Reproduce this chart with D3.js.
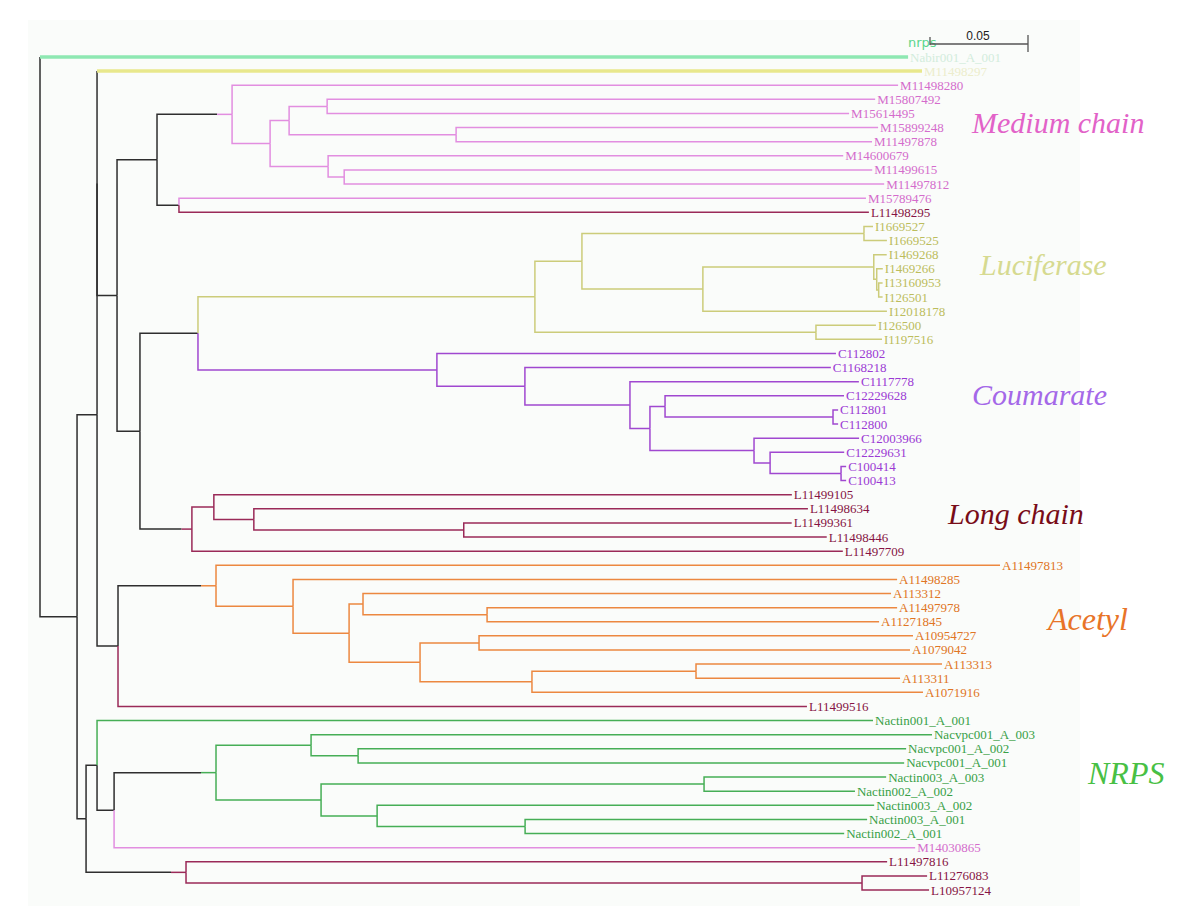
<!DOCTYPE html>
<html><head><meta charset="utf-8">
<script src="https://cdn.jsdelivr.net/npm/d3@7"></script>
<style>body{margin:0;background:#fff}svg{display:block}</style>
</head><body><div id="chart"></div>
<script>
// ---------- DATA (branch lengths, substitutions/site) ----------
const mediumChain = "((M11498280:0.3398,(((M15807492:0.2796,M15614495:0.2663):0.0194,(M15899248:0.2153,M11497878:0.2122):0.0852):0.0097,(M14600679:0.2628,(M11499615:0.2694,M11497812:0.2755):0.0082):0.0296):0.0194):0.0383,(M15789476:0.3505,L11498295:0.3520):0.0112):0.0204";
const luciferase = "(((I1669527:0.0046,I1669525:0.0117):0.1439,((I1469268:0.0066,(I1469266:0.0031,(I13160953:0.0020,I126501:0.0020):0.0010):0.0015):0.0872,I12018178:0.0939):0.0617):0.0240,(I126500:0.0306,I1197516:0.0337):0.1434):0.1719";
const coumarate = "(C112802:0.2036,(C1168218:0.1561,(C1117778:0.1168,((C12229628:0.0913,(C112801:0.0026,C112800:0.0026):0.0857):0.0077,(C12003966:0.0536,(C12229631:0.0378,(C100414:0.0026,C100413:0.0026):0.0362):0.0082):0.0531):0.0102):0.0536):0.0449):0.1219";
const longChain = "((L11499105:0.2949,(L11498634:0.2827,(L11499361:0.1673,L11498446:0.1852):0.1071):0.0204):0.0112,L11497709:0.3321):0.0265";
const acetyl = "(A11497813:0.4000,(A11498285:0.3082,((A113312:0.2694,(A11497978:0.2092,A11271845:0.2000):0.0633):0.0071,((A10954727:0.2214,A1079042:0.2199):0.0301,((A113313:0.1255,A113311:0.1041):0.0837,A1071916:0.1995):0.0571):0.0362):0.0286):0.0393):0.0500";
const nrps = "(Nactin001_A_001:0.3959,(((Nacvpc001_A_003:0.3168,(Nacvpc001_A_002:0.2796,Nacvpc001_A_001:0.2786):0.0240):0.0485,((Nactin003_A_003:0.0929,Nactin002_A_002:0.0770):0.1954,(Nactin003_A_002:0.2536,(Nactin003_A_001:0.1745,Nactin002_A_001:0.1628):0.0755):0.0286):0.0536):0.0520,M14030865:0.4087):0.0087):0.0056";
const longTrio = "(L11497816:0.3577,(L11276083:0.0332,L10957124:0.0342):0.3449):0.0510";

const treeNewick =
  `(Nabir001_A_001:0.4429,(((M11498297:0.4209,(${mediumChain},((${luciferase},${coumarate}):0.0296,${longChain}):0.0117):0.0102):0,` +
  `(${acetyl},L11499516:0.3515):0.0107):0.0102,(${nrps},${longTrio}):0.0046):0.0189);`;

const groupKeys   = ["M", "L", "I", "C", "A", "N"];
const groupTitles = ["Medium chain", "Long chain", "Luciferase", "Coumarate", "Acetyl", "NRPS"];
const highlightLeaves = ["Nabir001_A_001", "M11498297"];
const scaleBarValue = 0.05;

// ---------- STYLE ----------
const lineColors  = {M:"#e28ee0", L:"#9a2a58", I:"#cccc7a", C:"#a048d0", A:"#ec8840", N:"#46ae56"};
const labelColors = {M:"#d46ccc", L:"#861444", I:"#bcbd5c", C:"#9a3ad4", A:"#e07524", N:"#38a046"};
const titleColors = {M:"#e262c8", L:"#780c18", I:"#d6da90", C:"#a468e8", A:"#e87428", N:"#48c044"};
const titlePos = {M:[972,133,30], I:[980,275,30], C:[972,405,30], L:[948,524,30], A:[1048,630,32], N:[1088,784,32]};
const highlightColors = {"Nabir001_A_001":"#8ee8b2", "M11498297":"#e8e88c"};
const highlightLabel  = {"Nabir001_A_001":"#d2ecdc", "M11498297":"#ecedcc"};
const backbone = "#2e2e2e";

// ---------- PARSE ----------
function parseNewick(s){
  let i = 0;
  function node(){
    const n = {children: []};
    if (s[i] === "("){
      i++; n.children.push(node());
      while (s[i] === ","){ i++; n.children.push(node()); }
      i++; // ')'
    }
    let name = "";
    while (i < s.length && !",():;".includes(s[i])) name += s[i++];
    n.name = name;
    n.length = 0;
    if (s[i] === ":"){
      i++; let num = "";
      while (i < s.length && !",();".includes(s[i])) num += s[i++];
      n.length = +num;
    }
    return n;
  }
  return node();
}

const root = d3.hierarchy(parseNewick(treeNewick), d => d.children.length ? d.children : null);
root.eachBefore(n => { n.dist = (n.parent ? n.parent.dist : 0) + n.data.length; });
const leaves = root.leaves();

const W = 1200, H = 921;
const x = d3.scaleLinear().domain([0, scaleBarValue]).range([40, 138]);
const y = d3.scaleLinear().domain([0, leaves.length - 1]).range([57, 890]);
leaves.forEach((l, i) => l.y = y(i));
root.eachAfter(n => {
  if (n.children) n.y = (n.children[0].y + n.children[n.children.length - 1].y) / 2;
  n.x = x(n.dist);
});
const groupOf = name => name[0];
root.eachAfter(n => {
  if (!n.children) n.groups = new Set([groupOf(n.data.name)]);
  else { n.groups = new Set(); n.children.forEach(c => c.groups.forEach(g => n.groups.add(g))); }
  n.uniform = n.groups.size === 1 ? [...n.groups][0] : null;
});

// ---------- DRAW ----------
const svg = d3.select("#chart").append("svg").attr("width", W).attr("height", H);
svg.append("rect").attr("x", 28).attr("y", 20).attr("width", 1052).attr("height", 886).attr("fill", "#fafcfa");

const gEdges = svg.append("g").attr("fill", "none").attr("stroke-width", 1.5);
root.descendants().forEach(n => {
  if (!n.parent) return;
  const p = n.parent;
  const isHL = !n.children && highlightLeaves.includes(n.data.name);
  if (isHL){
    gEdges.append("path").attr("d", `M${p.x},${p.y}V${n.y}`).attr("stroke", backbone);
    gEdges.append("path").attr("d", `M${p.x},${n.y}H${n.x}`)
      .attr("stroke", highlightColors[n.data.name]).attr("stroke-width", 3.5);
    return;
  }
  const col = n.uniform ? lineColors[n.uniform] : backbone;
  const stem = n.children && n.uniform && !p.uniform && p.dist < 0.06;
  if (stem){
    const tip = Math.min(15, (n.x - p.x) * 0.2);
    gEdges.append("path").attr("d", `M${p.x},${p.y}V${n.y}H${n.x - tip}`).attr("stroke", backbone);
    gEdges.append("path").attr("d", `M${n.x - tip},${n.y}H${n.x}`).attr("stroke", col);
  } else {
    gEdges.append("path").attr("d", `M${p.x},${p.y}V${n.y}H${n.x}`).attr("stroke", col);
  }
});

// leaf labels
svg.append("g").selectAll("text").data(leaves).join("text")
  .attr("x", d => d.x + 2).attr("y", d => d.y + 4.5)
  .attr("font-family", "'Liberation Serif', serif").attr("font-size", 13)
  .attr("fill", d => highlightLeaves.includes(d.data.name) ? highlightLabel[d.data.name] : labelColors[groupOf(d.data.name)])
  .text(d => d.data.name);

// top annotation
svg.append("text").attr("x", 908).attr("y", 47).attr("font-family", "'DejaVu Sans', sans-serif")
  .attr("font-size", 13).attr("fill", "#5cd68c").text("nrps");

// clade titles
svg.append("g").selectAll("text").data(groupKeys).join("text")
  .attr("x", k => titlePos[k][0]).attr("y", k => titlePos[k][1])
  .attr("font-family", "'Liberation Serif', serif").attr("font-style", "italic")
  .attr("font-size", k => titlePos[k][2]).attr("fill", k => titleColors[k])
  .text((k, i) => groupTitles[i]);

// scale bar
const sbX = 930, sbY = 44, sbW = x(scaleBarValue) - x(0);
const sb = svg.append("g").attr("stroke", "#555").attr("stroke-width", 1.3);
sb.append("line").attr("x1", sbX).attr("x2", sbX + sbW).attr("y1", sbY).attr("y2", sbY);
sb.append("line").attr("x1", sbX).attr("x2", sbX).attr("y1", sbY - 7).attr("y2", sbY + 1);
sb.append("line").attr("x1", sbX + sbW).attr("x2", sbX + sbW).attr("y1", sbY - 9).attr("y2", sbY + 8);
svg.append("text").attr("x", sbX + sbW / 2 - 1).attr("y", sbY - 4).attr("text-anchor", "middle")
  .attr("font-family", "'Liberation Sans', sans-serif").attr("font-size", 12).attr("fill", "#222")
  .text(scaleBarValue.toFixed(2));
</script></body></html>
